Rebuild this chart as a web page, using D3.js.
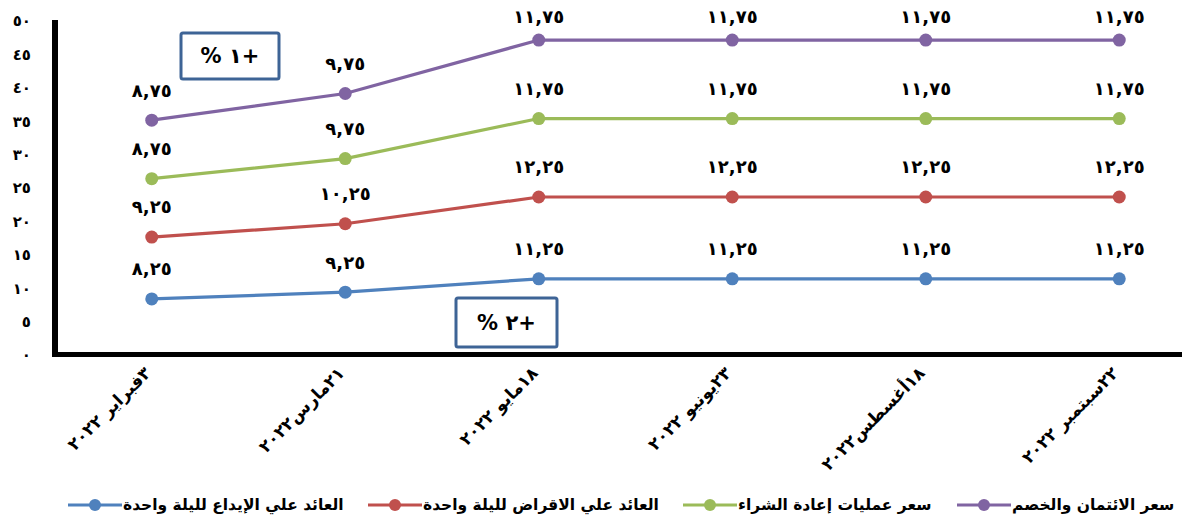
<!DOCTYPE html>
<html><head><meta charset="utf-8">
<script src="https://cdn.jsdelivr.net/npm/d3@7"></script>
<style>
html,body{margin:0;padding:0;background:#fff;}
svg{display:block;}
text{font-family:"DejaVu Sans",sans-serif;font-weight:bold;fill:#000;}
</style></head>
<body>
<svg id="c" width="1182" height="519"></svg>
<script>
const categories = ["٣فبراير ٢٠٢٢","٢١مارس٢٠٢٢","١٨مايو ٢٠٢٢","٢٣يونيو ٢٠٢٢","١٨أغسطس٢٠٢٢","٢٢سبتمبر ٢٠٢٢"];
const seriesNames = ["العائد علي الإيداع لليلة واحدة","العائد علي الاقراض لليلة واحدة","سعر عمليات إعادة الشراء","سعر الائتمان والخصم"];
const depositRate = [8.25, 9.25, 11.25, 11.25, 11.25, 11.25];
const lendingRate = [9.25, 10.25, 12.25, 12.25, 12.25, 12.25];
const repoRate = [8.75, 9.75, 11.75, 11.75, 11.75, 11.75];
const discountRate = [8.75, 9.75, 11.75, 11.75, 11.75, 11.75];
const yTicks = [0,5,10,15,20,25,30,35,40,45,50];
const annotations = ["% ١+","% ٢+"];
const colors = ["#4F81BD","#C0504D","#9BBB59","#8064A2"];

const toAr = s => String(s).replace(/[0-9]/g, d => "٠١٢٣٤٥٦٧٨٩"[+d]).replace(".", ",");
const fmtVal = v => toAr(v.toFixed(2));

const svg = d3.select("#c");
const x = d3.scaleBand().domain(categories).range([55, 1216]).padding(0);
const cx = c => x(c) + x.bandwidth()/2;
const y = d3.scaleLinear().domain([0, 50]).range([354, 20]);

const allSeries = [depositRate, lendingRate, repoRate, discountRate];
const rows = categories.map((c,i) => ({cat:c, s0:depositRate[i], s1:lendingRate[i], s2:repoRate[i], s3:discountRate[i]}));
const stack = d3.stack().keys(["s0","s1","s2","s3"]);
const stacked = stack(rows);

// y axis labels
const yAxis = d3.axisLeft(y).tickValues(yTicks).tickSize(0).tickPadding(0).tickFormat(d => toAr(d));
const gy = svg.append("g").attr("transform","translate(31,1)").call(yAxis);
gy.select(".domain").remove();
gy.selectAll("text").style("font-size","15px").style("font-family","DejaVu Sans").style("font-weight","bold").attr("fill","#000");

// x axis labels
const gx = svg.append("g").attr("transform","translate(0,354)");
gx.selectAll("text").data(categories).join("text")
  .attr("transform", d => `translate(${cx(d)-4},${16}) rotate(-45)`)
  .attr("text-anchor","end")
  .attr("dy","0.35em")
  .style("font-size","17px")
  .text(d => d);

// axis lines
svg.append("line").attr("x1",55).attr("x2",55).attr("y1",y(50)).attr("y2",357).attr("stroke","#000").attr("stroke-width",6);
svg.append("line").attr("x1",52).attr("x2",1182).attr("y1",y(0)+0.5).attr("y2",y(0)+0.5).attr("stroke","#000").attr("stroke-width",5);

// lines
const line = d3.line().x(d => cx(d.data.cat)).y(d => y(d[1]));
stacked.forEach((s, k) => {
  svg.append("path").datum(s).attr("d", line).attr("fill","none").attr("stroke",colors[k]).attr("stroke-width",3.2);
  svg.selectAll(null).data(s).join("circle")
    .attr("cx", d => cx(d.data.cat)).attr("cy", d => y(d[1])).attr("r",6.5).attr("fill",colors[k]);
  svg.selectAll(null).data(s).join("text")
    .attr("x", d => cx(d.data.cat))
    .attr("y", d => Math.max(y(d[1]) - 30, 17))
    .attr("dy","0.35em")
    .attr("text-anchor","middle")
    .style("font-size","18px")
    .style("letter-spacing","1.5px")
    .text((d,i) => fmtVal(allSeries[k][i]));
});

// annotation boxes
const boxes = [{x0:181,y0:33,w:98,h:46},{x0:456,y0:298,w:101,h:49}];
boxes.forEach((b,i) => {
  svg.append("rect").attr("x",b.x0).attr("y",b.y0).attr("width",b.w).attr("height",b.h)
    .attr("fill","#fff").attr("stroke","#3E6496").attr("stroke-width",3).attr("rx",2);
  svg.append("text").attr("x",b.x0+b.w/2).attr("y",b.y0+b.h/2).attr("dy","0.35em")
    .attr("text-anchor","middle").style("font-size","21px").text(annotations[i]);
});

// legend
const legX = [68, 368, 683, 957];
const leg = svg.append("g");
seriesNames.forEach((n,k) => {
  const g = leg.append("g").attr("transform",`translate(${legX[k]},505)`);
  g.append("line").attr("x1",0).attr("x2",54).attr("y1",0).attr("y2",0).attr("stroke",colors[k]).attr("stroke-width",3.2);
  g.append("circle").attr("cx",27).attr("cy",0).attr("r",6).attr("fill",colors[k]);
  g.append("text").attr("x",55).attr("y",0).attr("dy","0.35em").attr("text-anchor","start").style("font-size","15.5px").text(n);
});
</script>
</body></html>
